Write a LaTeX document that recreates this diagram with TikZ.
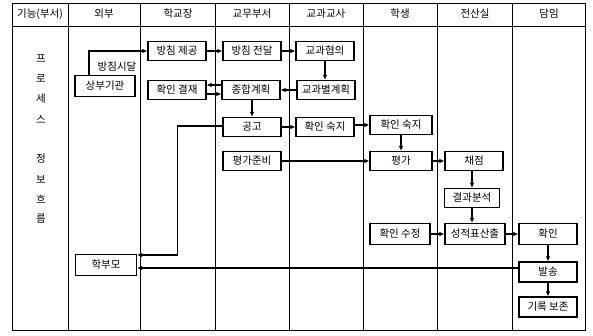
\documentclass[tikz,border=0pt]{standalone}
\usepackage{fontspec}
\newfontfamily\kr{Noto Sans CJK KR}
\usetikzlibrary{arrows.meta}
\begin{document}
\begin{tikzpicture}[x=1pt,y=-1pt,
  txt/.style={font=\kr\fontsize{10.5}{11}\selectfont, inner sep=0pt},
  box/.style={txt, draw, line width=1.1pt, minimum width=58pt, minimum height=19pt},
  arr/.style={line width=1.1pt, -{Latex[length=5pt,width=4.5pt]}},
  gridline/.style={line width=1pt}]
\useasboundingbox (0,0) rectangle (593,335);
% table
\draw[gridline] (12,3) rectangle (585,330);
\draw[gridline] (12,26) -- (585,26);
\foreach \x in {68,140,215,289,363,437,512} \draw[gridline] (\x,3) -- (\x,330);
% header
\node[txt] (h0) at (40,14) {기능(부서)};
\node[txt] (h1) at (104,14) {외부};
\node[txt] (h2) at (178,14) {학교장};
\node[txt] (h3) at (252,14) {교무부서};
\node[txt] (h4) at (326,14) {교과교사};
\node[txt] (h5) at (400,14) {학생};
\node[txt] (h6) at (475,14) {전산실};
\node[txt] (h7) at (549,14) {담임};
% left column
\node[txt] (l1) at (41,59) {프};
\node[txt] (l2) at (41,79) {로};
\node[txt] (l3) at (41,99) {세};
\node[txt] (l4) at (41,119) {스};
\node[txt] (l5) at (41,159) {정};
\node[txt] (l6) at (41,179) {보};
\node[txt] (l7) at (41,199) {흐};
\node[txt] (l8) at (41,219) {름};
% boxes
\node[box, minimum width=60pt, minimum height=21pt] (sangbu) at (105,86) {상부기관};
\node[txt] (sidal) at (117,67) {방침시달};
\node[box] (jegong) at (177,51) {방침 제공};
\node[box] (jeondal) at (252,51) {방침 전달};
\node[box] (hyeobui) at (325,51) {교과협의};
\node[box] (gyeoljae) at (177,90) {확인 결재};
\node[box] (jonghap) at (251,90) {종합계획};
\node[box] (gyegwa) at (326,90) {교과별계획};
\node[box] (gonggo) at (252,127) {공고};
\node[box] (jun) at (252,161) {평가준비};
\node[box] (suk1) at (325,127) {확인 숙지};
\node[box, minimum width=62pt] (suk2) at (401,125) {확인 숙지};
\node[box, minimum width=62pt] (pyeong) at (401,161) {평가};
\node[box] (chaejeom) at (474,161) {채점};
\node[box, minimum width=55pt] (bunseok) at (472,198) {결과분석};
\node[box, minimum width=60pt, minimum height=21pt] (sujeong) at (400,234) {확인 수정};
\node[box, minimum width=60pt, minimum height=21pt] (sanchul) at (475,234) {성적표산출};
\node[box, minimum height=21pt] (hwagin) at (548,234) {확인};
\node[box, minimum height=20pt] (balsong) at (548,272) {발송};
\node[box, minimum height=20pt] (girok) at (548,307) {기록 보존};
\node[box, minimum width=61pt, minimum height=21pt] (parent) at (106,265) {학부모};
% connectors
\draw[arr] ([xshift=-16pt]sangbu.north) |- (jegong.west);
\draw[arr] (jegong) -- (jeondal);
\draw[arr] (jeondal) -- (hyeobui);
\draw[arr] (hyeobui.south) -- (hyeobui.south |- gyegwa.north);
\draw[arr] (gyegwa) -- (jonghap);
\draw[arr] ([yshift=5pt]jonghap.west) -- ([yshift=5pt]jonghap.west -| gyeoljae.east);
\draw[arr] ([yshift=-4pt]gyeoljae.east) -- ([yshift=-4pt]gyeoljae.east -| jonghap.west);
\draw[arr] (jonghap.south -| gonggo.north) -- (gonggo.north);
\draw[arr] (gonggo) -- (suk1);
\draw[arr] (suk1.east |- suk2.west) -- (suk2.west);
\draw[arr] ([yshift=1pt]gonggo.west) -- ++(-45pt,0pt) |- ([yshift=10pt]parent.east);
\draw[arr] (jun) -- (pyeong);
\draw[arr] (suk2) -- (pyeong);
\draw[arr] (pyeong) -- (chaejeom);
\draw[arr] (chaejeom.south -| bunseok.north) -- (bunseok.north);
\draw[arr] (bunseok.south) -- (bunseok.south |- sanchul.north);
\draw[arr] (sujeong) -- (sanchul);
\draw[arr] (sanchul) -- (hwagin);
\draw[arr] (hwagin) -- (balsong);
\draw[arr] (balsong) -- (girok);
\draw[arr] ([yshift=4pt]balsong.west) -- ([yshift=4pt]balsong.west -| parent.east);
\end{tikzpicture}
\end{document}
